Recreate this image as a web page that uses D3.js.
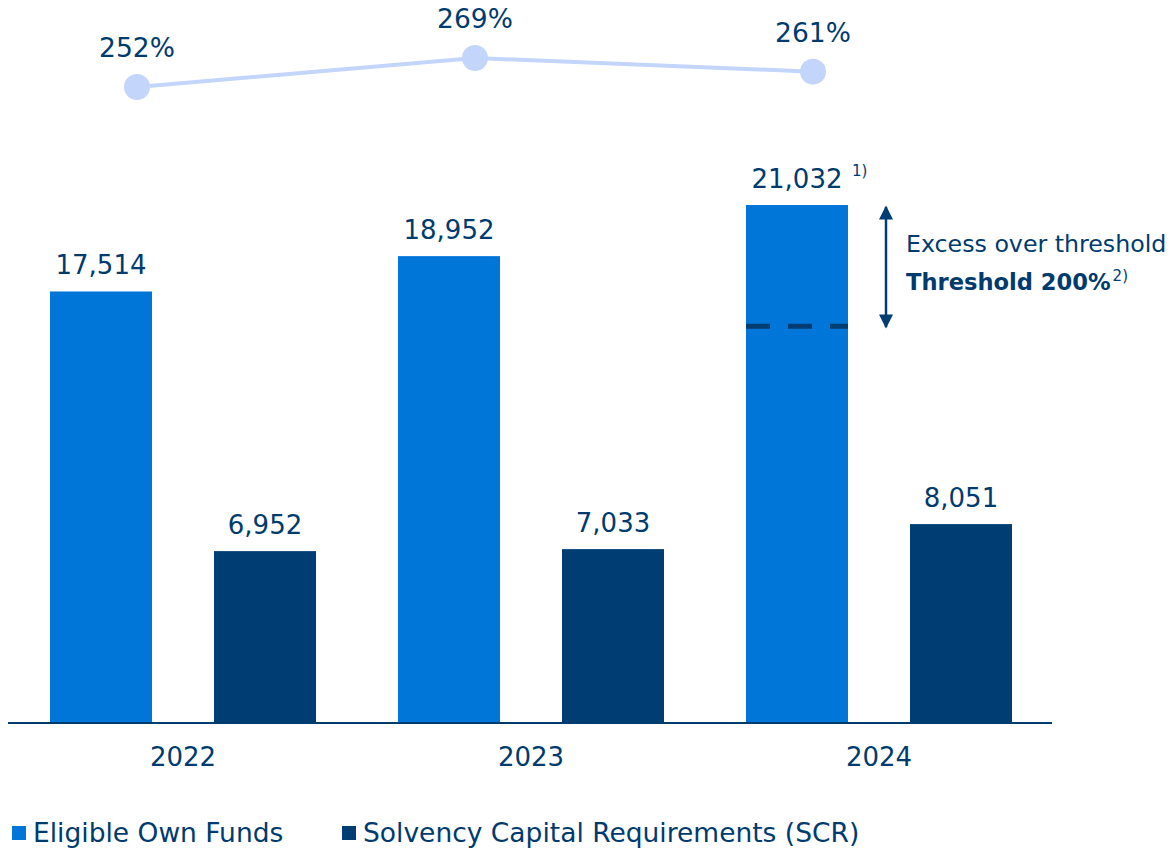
<!DOCTYPE html>
<html>
<head>
<meta charset="utf-8">
<script src="https://cdn.jsdelivr.net/npm/d3@7"></script>
<style>
	body { margin: 0; background: #fff; }
	text { font-family: "DejaVu Sans", sans-serif; fill: #003b6f; }
</style>
</head>
<body>
<div id="chart"></div>
<script>
'use strict';

const years      = ["2022", "2023", "2024"];
const ownFunds   = [17514, 18952, 21032];
const scr        = [6952, 7033, 8051];
const ratio      = [252, 269, 261];
const seriesKeys = ["Eligible Own Funds", "Solvency Capital Requirements (SCR)"];

const colours = { eof: "#0077d8", scr: "#003d73", line: "#c3d5fb", text: "#003b6f" };

const fmt = d3.format(",");

const drawChart = () =>
{
	const width  = 1170;
	const height = 849;
	const base   = 722;

	const svg = d3.select("#chart")
		.append("svg")
		.attr("width", width)
		.attr("height", height);

	const x = d3.scaleBand().domain(years).range([50, 1012]).paddingInner(0.2356).paddingOuter(0);
	const inner = d3.scaleBand().domain(["eof", "scr"]).range([0, x.bandwidth()]).paddingInner(0.378).paddingOuter(0);
	const y = d3.scaleLinear().domain([0, 21032]).range([base, 205]);

	const rows = years.map((yr, i) => ({ year: yr, eof: ownFunds[i], scr: scr[i], ratio: ratio[i] }));

	// bars
	const groups = svg.selectAll(".group")
		.data(rows)
		.enter()
			.append("g")
			.attr("transform", d => "translate(" + x(d.year) + ",0)");

	["eof", "scr"].forEach(key =>
	{
		groups.append("rect")
			.attr("x", inner(key))
			.attr("width", inner.bandwidth())
			.attr("y", d => y(d[key]))
			.attr("height", d => base - y(d[key]))
			.attr("fill", colours[key]);

		groups.append("text")
			.attr("x", inner(key) + inner.bandwidth() / 2)
			.attr("y", d => y(d[key]) - 17)
			.attr("text-anchor", "middle")
			.style("font-size", "26px")
			.text(d => fmt(d[key]));
	});

	// footnote on last own funds label
	const last = rows[rows.length - 1];
	svg.append("text")
		.attr("x", x(last.year) + inner("eof") + inner.bandwidth() / 2 + 55)
		.attr("y", y(last.eof) - 29)
		.style("font-size", "15px")
		.text("1)");

	// axis line
	svg.append("line")
		.attr("x1", 8).attr("x2", 1052)
		.attr("y1", base + 1).attr("y2", base + 1)
		.attr("stroke", colours.text)
		.attr("stroke-width", 2);

	svg.append("g")
		.attr("transform", "translate(0," + base + ")")
		.call(d3.axisBottom(x).tickSize(0).tickPadding(26))
		.call(g => g.select(".domain").remove())
		.selectAll("text")
			.style("font-size", "26px")
			.style("font-family", "'DejaVu Sans', sans-serif")
			.attr("fill", colours.text);

	// threshold (200% of SCR) dashed line in last own funds bar
	const thr = last.scr * 2;
	const bx = x(last.year) + inner("eof");
	svg.append("line")
		.attr("x1", bx).attr("x2", bx + inner.bandwidth())
		.attr("y1", y(thr)).attr("y2", y(thr))
		.attr("stroke", colours.scr)
		.attr("stroke-width", 5)
		.attr("stroke-dasharray", "24,18");

	// arrow
	const ax = 886;
	svg.append("defs")
		.append("marker")
		.attr("id", "head")
		.attr("viewBox", "0 0 10 10")
		.attr("refX", 9).attr("refY", 5)
		.attr("markerWidth", 16).attr("markerHeight", 14)
		.attr("markerUnits", "userSpaceOnUse")
		.attr("orient", "auto-start-reverse")
		.append("path")
		.attr("d", "M0,0 L10,5 L0,10 Z")
		.attr("fill", colours.scr);

	svg.append("line")
		.attr("x1", ax).attr("x2", ax)
		.attr("y1", y(last.eof) + 2).attr("y2", y(thr) + 1)
		.attr("stroke", colours.scr)
		.attr("stroke-width", 2.5)
		.attr("marker-start", "url(#head)")
		.attr("marker-end", "url(#head)");

	svg.append("text")
		.attr("x", 906).attr("y", 252)
		.style("font-size", "23.7px")
		.text("Excess over threshold");

	const t2 = svg.append("text")
		.attr("x", 906).attr("y", 290)
		.style("font-size", "22.6px")
		.style("font-weight", "bold")
		.text("Threshold 200%");
	t2.append("tspan")
		.attr("dx", 2).attr("dy", -9)
		.style("font-size", "15px")
		.style("font-weight", "normal")
		.text("2)");

	// ratio line
	const px = d3.scalePoint().domain(years).range([137, 813]);
	const py = d3.scaleLinear().domain([252, 269]).range([87, 58]);

	svg.append("path")
		.datum(rows)
		.attr("d", d3.line().x(d => px(d.year)).y(d => py(d.ratio)))
		.attr("fill", "none")
		.attr("stroke", colours.line)
		.attr("stroke-width", 4);

	svg.selectAll(".dot")
		.data(rows)
		.enter()
			.append("circle")
			.attr("cx", d => px(d.year))
			.attr("cy", d => py(d.ratio))
			.attr("r", 13)
			.attr("fill", colours.line);

	svg.selectAll(".rlabel")
		.data(rows)
		.enter()
			.append("text")
			.attr("x", d => px(d.year))
			.attr("y", d => py(d.ratio) - 30)
			.attr("text-anchor", "middle")
			.style("font-size", "26.5px")
			.text(d => d.ratio + "%");

	// legend
	const legendX = [12, 342];
	const legend = svg.selectAll(".legend")
		.data(seriesKeys)
		.enter()
			.append("g")
			.attr("transform", (d, i) => "translate(" + legendX[i] + ",826)");

	legend.append("rect")
		.attr("width", 14).attr("height", 14)
		.attr("fill", (d, i) => i === 0 ? colours.eof : colours.scr);

	legend.append("text")
		.attr("x", 21).attr("y", 16)
		.style("font-size", "26.5px")
		.text(d => d);
};

document.addEventListener("DOMContentLoaded", () =>
{
	drawChart();
}, false);
</script>
</body>
</html>
